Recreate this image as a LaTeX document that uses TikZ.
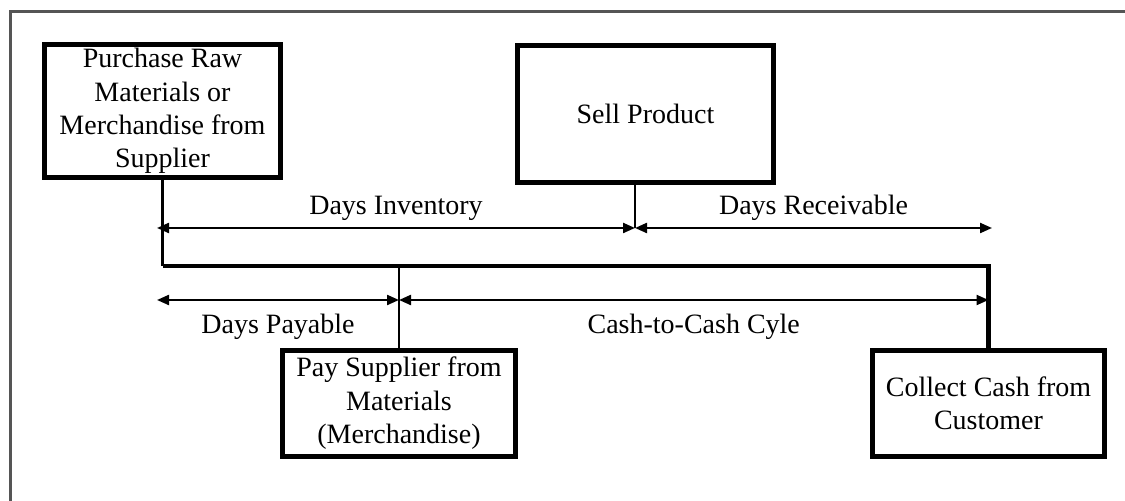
\documentclass[tikz,border=0pt]{standalone}
\usepackage{fontspec}
\setmainfont{Liberation Serif}
\usetikzlibrary{arrows.meta, positioning}
\definecolor{framegray}{RGB}{85,85,85}

\begin{document}
\begin{tikzpicture}[
    x=0.5pt, y=-0.5pt,
    font=\fontsize{14}{16.7}\selectfont,
    >={Triangle[length=6pt,width=5pt]},
    box/.style={rectangle, draw, line width=2.4pt, align=center, inner sep=0pt},
    link/.style={line width=1.1pt},
    trunk/.style={line width=2.2pt},
    span/.style={<->, line width=1.1pt}
]
\useasboundingbox (0,0) rectangle (1125,501);

% Frame
\draw[framegray, line width=1.5pt] (10,520) -- (10,12) -- (1140,12);

% Events
\node[box, minimum width=118pt, minimum height=66.5pt] (buy) at (162.5,111) {Purchase Raw\\Materials or\\Merchandise from\\Supplier};
\node[box, minimum width=128pt, minimum height=68.5pt] (sell) at (645.5,114) {Sell Product};
\node[box, minimum width=116.5pt, minimum height=53pt] (pay) at (399,403.5) {Pay Supplier from\\Materials\\(Merchandise)};
\node[box, minimum width=116pt, minimum height=53pt] (collect) at (988.5,403.5) {Collect Cash from\\Customer};

% Time line points
\coordinate (split) at (635,228);
\coordinate (invstart) at (157,228);
\coordinate (recend) at (992,228);
\coordinate (tleft) at (162,266);
\coordinate (paystart) at (157,300);

% Connectors
\draw[link] (buy.south) -- (buy.south |- tleft);
\draw[link] (sell.south -| split) -- (split);
\draw[trunk] (buy.south |- tleft) -- (tleft -| collect.north) -- (collect.north);
\draw[link] (pay.north) -- (pay.north |- tleft);

% Periods
\draw[span] (invstart) -- node[above]{Days Inventory} (split);
\draw[span] (split) -- node[above]{Days Receivable} (recend);
\draw[span] (paystart) -- node[below=3pt]{Days Payable} (pay.north |- paystart);
\draw[span] (pay.north |- paystart) -- node[below=3pt]{Cash-to-Cash Cyle} (collect.north |- paystart);

\end{tikzpicture}
\end{document}
